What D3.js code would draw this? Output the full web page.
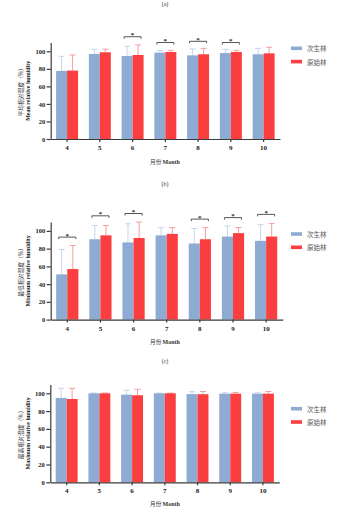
<!DOCTYPE html>
<html>
<head>
<meta charset="utf-8">
<script src="https://cdn.jsdelivr.net/npm/d3@7"></script>
<style>
    body { margin: 0; background: #fff; }
    svg { display: block; }
    .tick text { font-family: "Liberation Serif", "DejaVu Serif", serif; font-weight: bold; fill: #222; }
    .axis path, .axis line { stroke: #3a3a3a; stroke-width: 1.2; }
</style>
</head>
<body>
<div id="chart"></div>
<script>
// Months on the x axis and the two forest types
const months = ['4', '5', '6', '7', '8', '9', '10'];
const forests = ['次生林', '原始林'];
const forestColors = ['#8dabd3', '#fb3f40'];
const errorColors = ['#c6d5ea', '#f89c9c'];
const yTicks = [0, 20, 40, 60, 80, 100];

// (a) mean relative humidity
const meanSecondary = [77.6, 97.0, 94.7, 98.5, 95.4, 98.0, 96.6];
const meanSecondarySd = [16.7, 5.3, 11.0, 2.5, 7.3, 4.3, 6.8];
const meanPrimary = [78.0, 98.9, 95.8, 99.2, 96.6, 99.2, 97.7];
const meanPrimarySd = [17.8, 3.4, 11.4, 1.8, 6.8, 1.8, 6.9];
const meanSig = [['6', 116.6], ['7', 110], ['8', 111.4], ['9', 110]];

// (b) minimum relative humidity
const minSecondary = [51.0, 90.6, 87.0, 95.0, 85.8, 93.6, 88.8];
const minSecondarySd = [28.0, 15.4, 21.0, 8.7, 16.8, 12.0, 18.2];
const minPrimary = [57.0, 95.0, 92.0, 96.6, 90.6, 97.5, 93.6];
const minPrimarySd = [26.5, 11.0, 18.0, 7.1, 13.1, 6.2, 14.6];
const minSig = [['4', 93], ['5', 117], ['6', 119.6], ['8', 113.3], ['9', 115], ['10', 118.6]];

// (c) maximum relative humidity
const maxSecondary = [94.8, 100, 98.5, 100, 99.1, 99.6, 99.6];
const maxSecondarySd = [10.8, 0.3, 4.9, 0.2, 2.7, 1.1, 1.0];
const maxPrimary = [93.6, 100, 97.8, 100, 99.0, 99.6, 99.6];
const maxPrimarySd = [12.0, 0.3, 6.7, 0.2, 3.0, 1.4, 2.4];
const maxSig = [];

const width = 345, height = 515;
const svg = d3.select('#chart').append('svg')
    .attr('width', width)
    .attr('height', height);

const serif = '"Liberation Serif", "DejaVu Serif", serif';
const cjk = '"Noto Sans CJK SC", sans-serif';

function drawPanel(p) {
    const y = d3.scaleLinear().domain([0, 110]).range([p.y0, p.y0 - p.unit * 110]);
    const x0 = d3.scaleBand().domain(months).range([p.left, p.right])
        .paddingInner(0.33).paddingOuter(0.165);
    const x1 = d3.scaleBand().domain(forests).range([0, x0.bandwidth()]);

    const g = svg.append('g');

    // panel letter
    g.append('text')
        .attr('x', 165).attr('y', p.titleY)
        .attr('text-anchor', 'middle').attr('dominant-baseline', 'central')
        .style('font-family', serif).style('font-size', '6px').style('fill', '#333')
        .text(p.letter);

    const series = [
        { name: forests[0], mean: p.secondary, sd: p.secondarySd },
        { name: forests[1], mean: p.primary, sd: p.primarySd }
    ];

    // error bars (upper half only)
    series.forEach((s, si) => {
        const eg = g.append('g');
        months.forEach((m, i) => {
            const cx = x0(m) + x1(s.name) + x1.bandwidth() / 2;
            eg.append('line')
                .attr('x1', cx).attr('x2', cx)
                .attr('y1', y(s.mean[i])).attr('y2', y(s.mean[i] + s.sd[i]))
                .attr('stroke', errorColors[si]).attr('stroke-width', 1);
            eg.append('line')
                .attr('x1', cx - 3).attr('x2', cx + 3)
                .attr('y1', y(s.mean[i] + s.sd[i])).attr('y2', y(s.mean[i] + s.sd[i]))
                .attr('stroke', errorColors[si]).attr('stroke-width', 1);
        });
    });

    // bars
    series.forEach((s, si) => {
        g.append('g').selectAll('rect')
            .data(months.map((m, i) => ({ m, v: s.mean[i] })))
            .enter().append('rect')
            .attr('x', d => x0(d.m) + x1(s.name))
            .attr('y', d => y(d.v))
            .attr('width', x1.bandwidth())
            .attr('height', d => y(0) - y(d.v))
            .attr('fill', forestColors[si]);
    });

    // significance brackets
    p.sig.forEach(([m, level]) => {
        const xa = x0(m) + x1.bandwidth() / 2 - 3;
        const xb = x0(m) + x1.bandwidth() * 1.5 + 3;
        const ly = y(level);
        g.append('path')
            .attr('d', `M${xa},${ly + 2}V${ly}H${xb}V${ly + 2}`)
            .attr('fill', 'none').attr('stroke', '#444').attr('stroke-width', 0.9);
        g.append('text')
            .attr('x', (xa + xb) / 2).attr('y', ly + 0.5)
            .attr('text-anchor', 'middle')
            .style('font-family', serif).style('font-size', '7px').style('font-weight', 'bold')
            .style('fill', '#333')
            .text('*');
    });

    // axes
    g.append('g')
        .attr('class', 'axis')
        .attr('transform', `translate(${p.left},0)`)
        .call(d3.axisLeft(y).tickValues(yTicks).tickSize(4).tickSizeOuter(0).tickPadding(1.5))
        .selectAll('text').style('font-size', '6.5px');

    g.append('g')
        .attr('class', 'axis')
        .attr('transform', `translate(0,${p.y0})`)
        .call(d3.axisBottom(x0).tickSize(3).tickSizeOuter(0).tickPadding(3))
        .selectAll('text').style('font-size', '7px');

    // y axis title, two lines
    const ty = (y(0) + y(110)) / 2;
    g.append('text')
        .attr('transform', `translate(20.7,${ty}) rotate(-90)`)
        .attr('text-anchor', 'middle').attr('dominant-baseline', 'central')
        .style('font-family', cjk).style('font-size', '5.8px').style('fill', '#333')
        .text(p.titleCn);
    g.append('text')
        .attr('transform', `translate(28.3,${ty}) rotate(-90)`)
        .attr('text-anchor', 'middle').attr('dominant-baseline', 'central')
        .style('font-family', serif).style('font-size', '6px').style('font-weight', 'bold')
        .style('fill', '#222')
        .text(p.titleEn);

    // x axis title
    const xt = g.append('text')
        .attr('x', 165).attr('y', p.monthY)
        .attr('text-anchor', 'middle').attr('dominant-baseline', 'central')
        .style('fill', '#333');
    xt.append('tspan').style('font-family', cjk).style('font-size', '5.6px').text('月份 ');
    xt.append('tspan').style('font-family', serif).style('font-size', '6px')
        .style('font-weight', 'bold').text('Month');

    // legend
    forests.forEach((name, i) => {
        const ly = p.legendY + i * 13.3;
        g.append('rect')
            .attr('x', 291).attr('y', ly - 1.8)
            .attr('width', 11).attr('height', 3.6)
            .attr('fill', forestColors[i]);
        g.append('text')
            .attr('x', 307).attr('y', ly)
            .attr('dominant-baseline', 'central')
            .style('font-family', cjk).style('font-size', '6.5px').style('fill', '#555')
            .text(name);
    });
}

drawPanel({
    letter: '(a)', titleY: 3.5, y0: 139, unit: 0.877, left: 50.7, right: 280,
    monthY: 162.3, legendY: 48.3,
    titleCn: '平均相对湿度（%）', titleEn: 'Mean relative humidity',
    secondary: meanSecondary, secondarySd: meanSecondarySd,
    primary: meanPrimary, primarySd: meanPrimarySd, sig: meanSig
});

drawPanel({
    letter: '(b)', titleY: 184, y0: 319.6, unit: 0.887, left: 50.7, right: 282.7,
    monthY: 342.3, legendY: 234,
    titleCn: '最低相对湿度（%）', titleEn: 'Minimum relative humidity',
    secondary: minSecondary, secondarySd: minSecondarySd,
    primary: minPrimary, primarySd: minPrimarySd, sig: minSig
});

drawPanel({
    letter: '(c)', titleY: 360.7, y0: 482.3, unit: 0.89, left: 50.3, right: 279.3,
    monthY: 504.3, legendY: 408.7,
    titleCn: '最高相对湿度（%）', titleEn: 'Maximum relative humidity',
    secondary: maxSecondary, secondarySd: maxSecondarySd,
    primary: maxPrimary, primarySd: maxPrimarySd, sig: maxSig
});
</script>
</body>
</html>
